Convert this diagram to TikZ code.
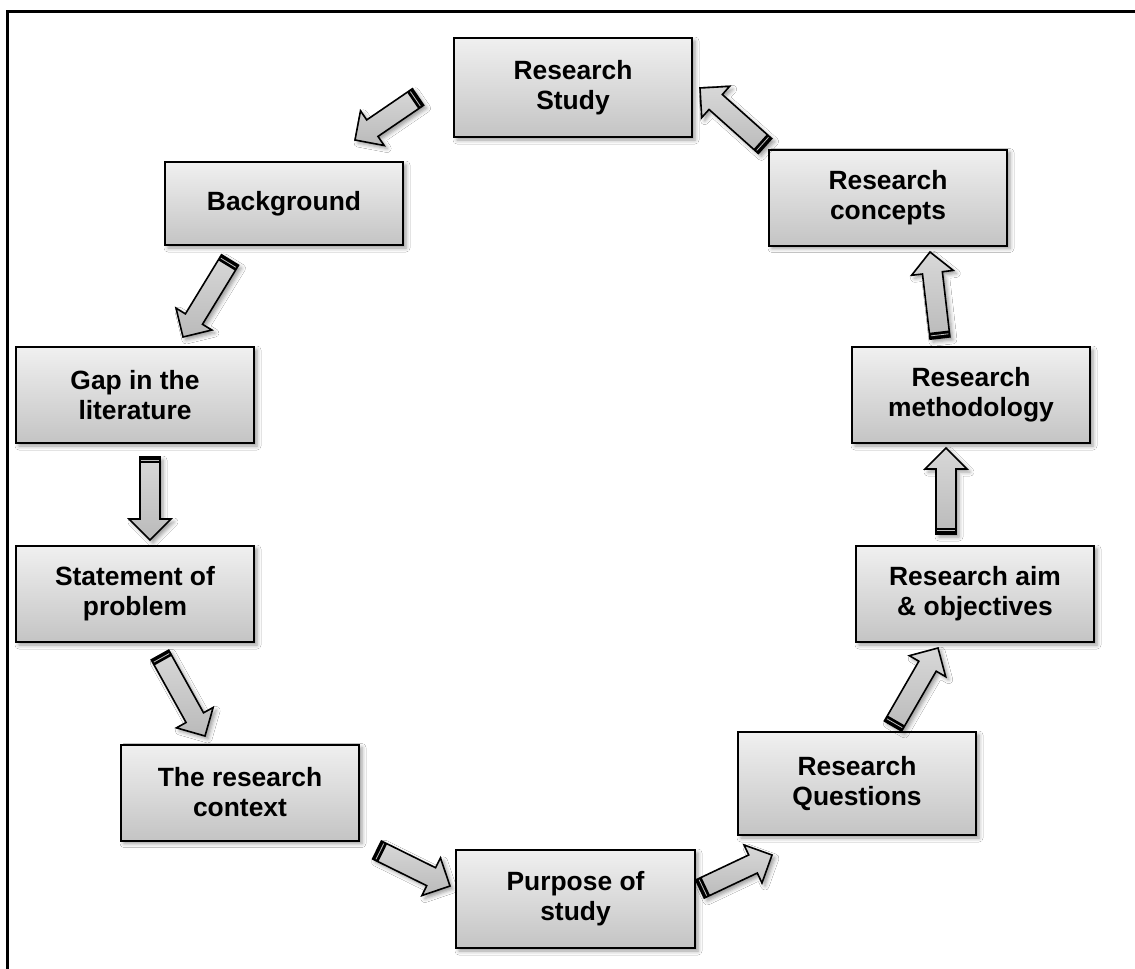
\documentclass[tikz,border=0pt]{standalone}
\usepackage{fontspec}
\setmainfont{Liberation Sans}
\usetikzlibrary{calc,shadows.blur}

\definecolor{boxtop}{HTML}{F0F0F0}
\definecolor{boxbot}{HTML}{C4C4C4}
\definecolor{arrtop}{HTML}{D8D8D8}
\definecolor{arrbot}{HTML}{BABABA}

\tikzset{
  stage/.style={draw=black, line width=1pt, top color=boxtop, bottom color=boxbot,
    font=\bfseries\fontsize{13.2}{15}\selectfont, align=center, inner sep=0pt,
    minimum width=119pt, minimum height=48pt,
    blur shadow={shadow xshift=1.5pt, shadow yshift=-1.5pt, shadow blur radius=2pt, shadow opacity=40}},
  arrowbody/.style={draw=black, line width=0.8pt, top color=arrtop, bottom color=arrbot,
    blur shadow={shadow xshift=1.5pt, shadow yshift=-1.5pt, shadow blur radius=2pt, shadow opacity=40}},
}

% block arrow from a tail coordinate to a tip coordinate, with a striped tail end
\newcommand\blockarrow[2]{%
  \coordinate (ab) at ($(#2)!10.5pt!(#1)$);
  \coordinate (as) at ($(#1)!3.2pt!(#2)$);
  \coordinate (am) at ($(#1)!1.6pt!(#2)$);
  \draw[arrowbody] ($(#1)!5pt!90:(#2)$) -- ($(ab)!5pt!90:(#2)$) -- ($(ab)!10.5pt!90:(#2)$)
    -- (#2) -- ($(ab)!10.5pt!-90:(#2)$) -- ($(ab)!5pt!-90:(#2)$) -- ($(#1)!5pt!-90:(#2)$) -- cycle;
  \fill ($(#1)!5pt!90:(#2)$) -- ($(as)!5pt!90:(#2)$) -- ($(as)!5pt!-90:(#2)$) -- ($(#1)!5pt!-90:(#2)$) -- cycle;
  \draw[gray!50, line width=0.4pt] ($(am)!4.4pt!90:(#2)$) -- ($(am)!4.4pt!-90:(#2)$);
}

\begin{document}
\begin{tikzpicture}[x=0.5pt, y=-0.5pt]
  \useasboundingbox (0,0) rectangle (1135,969);
  \fill[white] (0,0) rectangle (1135,969);

  % frame
  \draw[line width=1.5pt] (7.5,969) -- (7.5,11.5) -- (1135,11.5);

  % stages of the research cycle
  \node[stage, minimum height=49.5pt] (study) at (573,87.5) {Research\\Study};
  \node[stage, minimum height=41.5pt] (background) at (284,203.5) {Background};
  \node[stage] (gap) at (135,395) {Gap in the\\literature};
  \node[stage] (statement) at (135,594) {Statement of\\problem};
  \node[stage] (context) at (240,792.5) {The research\\context};
  \node[stage, minimum width=119.5pt, minimum height=49pt] (purpose) at (575.5,899) {Purpose of\\study};
  \node[stage, minimum height=51.5pt] (questions) at (857,783.5) {Research\\Questions};
  \node[stage] (aim) at (975,594) {Research aim\\\& objectives};
  \node[stage] (method) at (971,395) {Research\\methodology};
  \node[stage] (concepts) at (888,197.5) {Research\\concepts};

  % arrow ends
  \coordinate (t1) at (418,97);   \coordinate (h1) at (355,140);
  \coordinate (t2) at (230,260);  \coordinate (h2) at (183,337);
  \coordinate (t3) at (150,457);  \coordinate (h3) at (150,540);
  \coordinate (t4) at (160,655);  \coordinate (h4) at (205,736);
  \coordinate (t5) at (377,850);  \coordinate (h5) at (450,886);
  \coordinate (t6) at (700,889);  \coordinate (h6) at (772,855);
  \coordinate (t7) at (893,726);  \coordinate (h7) at (938,648);
  \coordinate (t8) at (946,534);  \coordinate (h8) at (946,448);
  \coordinate (t9) at (940,338);  \coordinate (h9) at (930,252);
  \coordinate (t10) at (765,146); \coordinate (h10) at (700,88);

  \blockarrow{t1}{h1}
  \blockarrow{t2}{h2}
  \blockarrow{t3}{h3}
  \blockarrow{t4}{h4}
  \blockarrow{t5}{h5}
  \blockarrow{t6}{h6}
  \blockarrow{t7}{h7}
  \blockarrow{t8}{h8}
  \blockarrow{t9}{h9}
  \blockarrow{t10}{h10}
\end{tikzpicture}
\end{document}
